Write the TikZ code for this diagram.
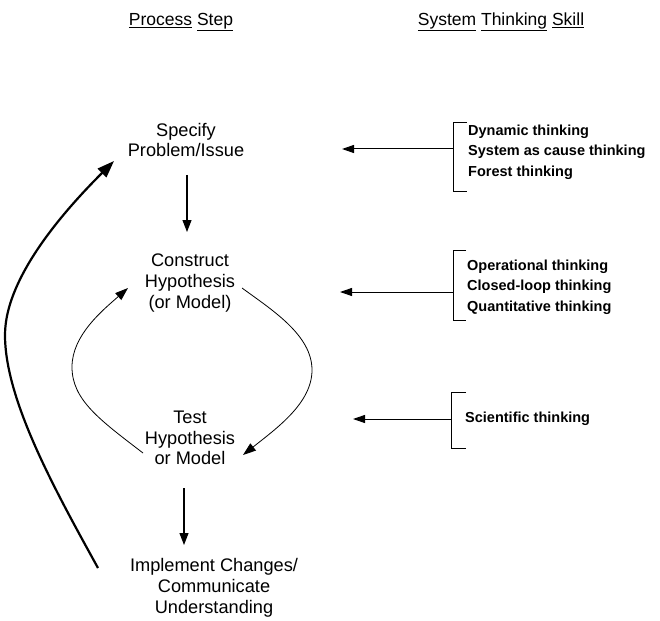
\documentclass[tikz,border=0pt]{standalone}
\usepackage{fontspec}
\setmainfont{Liberation Sans}
\usetikzlibrary{arrows.meta}
\begin{document}
\begin{tikzpicture}[x=1pt,y=-1pt,
  head/.style={font=\fontsize{17.5}{21}\selectfont},
  stepbox/.style={font=\fontsize{18.2}{20.8}\selectfont,align=center,inner sep=0pt},
  skill/.style={font=\bfseries\fontsize{14.5}{20.5}\selectfont,align=left,anchor=west,inner sep=0pt},
  flow/.style={line width=1.1pt,-{Triangle[length=12pt,width=9pt]}},
  loop/.style={line width=0.8pt,-{Triangle[length=13pt,width=9pt]}},
  back/.style={line width=2.2pt,-{Triangle[length=17pt,width=12pt]}},
  feed/.style={line width=1pt,-{Triangle[length=12pt,width=8pt]}},
  bracket/.style={line width=1pt}]
\useasboundingbox (0,0) rectangle (660,620);

% column headings
\node[head] (h1) at (181,22) {\underline{Process} \underline{Step}};
\node[head] (h2) at (501,22) {\underline{System} \underline{Thinking} \underline{Skill}};

% process steps
\node[stepbox] (spec) at (186,140) {Specify\\Problem/Issue};
\node[stepbox] (cons) at (190,283) {Construct\\Hypothesis\\ (or Model)};
\node[stepbox] (test) at (190,438) {Test\\Hypothesis\\or Model};
\node[stepbox] (impl) at (214,588) {Implement Changes/\\Communicate\\Understanding};

% steps down the column
\coordinate (a1s) at (187,175);
\coordinate (a1e) at (187,232);
\coordinate (a2s) at (184,488);
\coordinate (a2e) at (184,545);
\draw[flow] (a1s) -- (a1e);
\draw[flow] (a2s) -- (a2e);

% construct/test loop
\coordinate (lt) at (143,453);
\coordinate (lh) at (128,288);
\coordinate (rt) at (242,288);
\coordinate (rh) at (243,455);
\draw[loop] (lt) .. controls (100,420) and (72,400) .. (72,367)
                 .. controls (72,335) and (103,310) .. (lh);
\draw[loop] (rt) .. controls (272,310) and (312,335) .. (312,370)
                 .. controls (312,403) and (277,428) .. (rh);

% return from implementation back to the problem
\coordinate (bs) at (98,568);
\coordinate (be) at (114,161);
\draw[back] (bs) .. controls (55,490) and (5,400) .. (5,335)
                 .. controls (5,275) and (70,205) .. (be);

% skill groups
\node[skill] (s1) at (468,152) {Dynamic thinking\\System as cause thinking\\Forest thinking};
\node[skill] (s2) at (467,287) {Operational thinking\\Closed-loop thinking\\Quantitative thinking};
\node[skill] (s3) at (465,419) {Scientific thinking};

% brackets
\draw[bracket] (467,123) -- (453,123) -- (453,192) -- (467,192);
\draw[bracket] (466,250) -- (453,250) -- (453,320) -- (466,320);
\draw[bracket] (466,392) -- (451,392) -- (451,448) -- (466,448);

% skills feeding the steps
\coordinate (b1) at (453,149);
\coordinate (t1) at (342,149);
\coordinate (b2) at (453,292);
\coordinate (t2) at (340,292);
\coordinate (b3) at (451,419);
\coordinate (t3) at (353,419);
\draw[feed] (b1) -- (t1);
\draw[feed] (b2) -- (t2);
\draw[feed] (b3) -- (t3);
\end{tikzpicture}
\end{document}
